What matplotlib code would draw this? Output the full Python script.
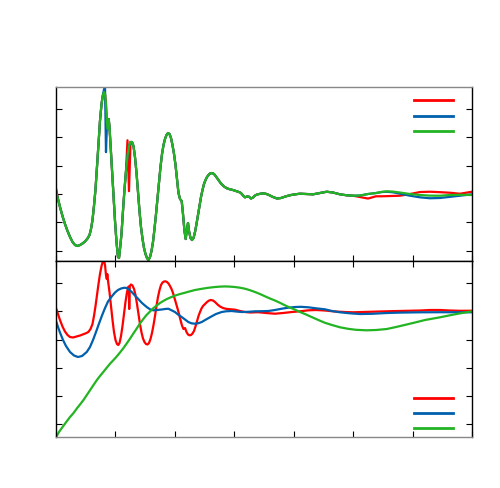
import matplotlib
matplotlib.use("Agg")
import matplotlib.pyplot as plt
from matplotlib.lines import Line2D

# ---------------- data: upper panel (shared x) ----------------
top_x = [0.000, 0.034, 0.067, 0.109, 0.151, 0.194, 0.236, 0.278, 0.320, 0.362,
         0.404, 0.446, 0.488, 0.530, 0.564, 0.589, 0.614, 0.639, 0.665, 0.690,
         0.715, 0.740, 0.766, 0.786, 0.808, 0.825, 0.841, 0.858, 0.872, 0.887,
         0.900, 0.917, 0.942, 0.968, 0.993, 1.018, 1.043, 1.060, 1.077, 1.102,
         1.127, 1.153, 1.178, 1.203, 1.228, 1.254, 1.279, 1.304, 1.329, 1.355,
         1.380, 1.405, 1.430, 1.456, 1.481, 1.506, 1.531, 1.556, 1.582, 1.607,
         1.632, 1.657, 1.683, 1.708, 1.733, 1.758, 1.784, 1.809, 1.834, 1.859,
         1.885, 1.910, 1.935, 1.960, 1.986, 2.011, 2.036, 2.061, 2.087, 2.115,
         2.137, 2.162, 2.182, 2.204, 2.221, 2.238, 2.263, 2.288, 2.314, 2.339,
         2.364, 2.389, 2.415, 2.440, 2.465, 2.490, 2.516, 2.541, 2.566, 2.591,
         2.625, 2.659, 2.692, 2.734, 2.776, 2.827, 2.877, 2.928, 2.978, 3.029,
         3.079, 3.113, 3.147, 3.180, 3.214, 3.248, 3.281, 3.315, 3.349, 3.382,
         3.433, 3.483, 3.534, 3.584, 3.651, 3.719, 3.786, 3.870, 3.954, 4.038,
         4.106, 4.207, 4.325, 4.442, 4.555, 4.661, 4.779, 4.897, 4.998, 5.115,
         5.250, 5.385, 5.486, 5.570, 5.671, 5.788, 5.957, 6.125, 6.293, 6.462,
         6.630, 6.798, 7.000]

top_green = [0.117, -0.177, -0.459, -0.777, -1.060, -1.307, -1.519, -1.696, -1.802, -1.837,
             -1.802, -1.749, -1.678, -1.572, -1.449, -1.237, -0.919, -0.424, 0.177, 0.954,
             1.767, 2.580, 3.180, 3.463, 3.604, 3.534, 3.180, 2.474, 2.297, 2.650,
             2.368, 1.767, 0.883, -0.071, -0.954, -1.696, -2.226, -2.262, -1.943, -1.413,
             -0.601, 0.177, 0.813, 1.343, 1.696, 1.837, 1.837, 1.696, 1.307, 0.742,
             0.071, -0.601, -1.166, -1.590, -1.908, -2.120, -2.262, -2.332, -2.226, -2.014,
             -1.696, -1.237, -0.707, -0.141, 0.424, 0.954, 1.413, 1.731, 1.944, 2.085,
             2.156, 2.120, 1.979, 1.731, 1.413, 1.025, 0.530, 0.035, -0.177, -0.247,
             -0.707, -1.307, -1.590, -1.237, -1.025, -1.307, -1.555, -1.625, -1.555, -1.343,
             -1.060, -0.742, -0.424, -0.106, 0.141, 0.353, 0.495, 0.601, 0.671, 0.724,
             0.742, 0.707, 0.618, 0.495, 0.371, 0.265, 0.201, 0.166, 0.141, 0.106,
             0.071, 0.035, -0.053, -0.117, -0.088, -0.095, -0.159, -0.124, -0.053, -0.018,
             0.007, 0.025, 0.007, -0.035, -0.106, -0.159, -0.141, -0.081, -0.035, -0.007,
             0.011, 0.000, -0.011, 0.035, 0.081, 0.053, -0.011, -0.046, -0.060, -0.053,
             0.000, 0.035, 0.078, 0.095, 0.085, 0.053, 0.000, -0.035, -0.057, -0.060,
             -0.035, -0.028, -0.035]

top_red = [0.200, -0.177, -0.459, -0.777, -1.060, -1.307, -1.519, -1.696, -1.802, -1.837,
           -1.802, -1.749, -1.678, -1.572, -1.449, -1.237, -0.919, -0.424, 0.177, 0.954,
           1.767, 2.580, 3.180, 3.463, 3.604, 3.534, 3.180, 2.474, 2.297, 2.650,
           2.368, 1.767, 0.883, -0.071, -0.954, -1.696, -2.226, -2.262, -1.943, -1.413,
           -0.601, 0.177, 0.813, 1.900, 0.100, 1.837, 1.837, 1.696, 1.307, 0.742,
           0.071, -0.601, -1.166, -1.590, -1.908, -2.120, -2.262, -2.332, -2.226, -2.014,
           -1.696, -1.237, -0.707, -0.141, 0.424, 0.954, 1.413, 1.731, 1.944, 2.085,
           2.156, 2.120, 1.979, 1.731, 1.413, 1.025, 0.530, 0.035, -0.177, -0.247,
           -0.707, -1.307, -1.590, -1.237, -1.025, -1.307, -1.555, -1.625, -1.555, -1.343,
           -1.060, -0.742, -0.424, -0.106, 0.141, 0.353, 0.495, 0.601, 0.671, 0.724,
           0.742, 0.707, 0.618, 0.495, 0.371, 0.265, 0.201, 0.166, 0.141, 0.106,
           0.071, 0.035, -0.053, -0.117, -0.088, -0.095, -0.159, -0.124, -0.053, -0.018,
           0.007, 0.025, 0.007, -0.035, -0.106, -0.159, -0.141, -0.081, -0.035, -0.007,
           0.011, 0.000, -0.011, 0.035, 0.081, 0.053, -0.011, -0.046, -0.060, -0.106,
           -0.160, -0.080, -0.080, -0.075, -0.070, -0.060, 0.000, 0.070, 0.081, 0.065,
           0.045, 0.010, 0.081]

top_blue = [0.117, -0.177, -0.459, -0.777, -1.060, -1.307, -1.519, -1.696, -1.802, -1.837,
            -1.802, -1.749, -1.678, -1.572, -1.449, -1.237, -0.919, -0.424, 0.177, 0.954,
            1.767, 2.580, 3.180, 3.463, 3.700, 3.780, 1.480, 2.474, 2.297, 2.650,
            2.368, 1.767, 0.883, -0.071, -0.954, -1.696, -2.226, -2.262, -1.943, -1.413,
            -0.601, 0.177, 0.813, 1.343, 1.696, 1.837, 1.837, 1.696, 1.307, 0.742,
            0.071, -0.601, -1.166, -1.590, -1.908, -2.120, -2.262, -2.332, -2.226, -2.014,
            -1.696, -1.237, -0.707, -0.141, 0.424, 0.954, 1.413, 1.731, 1.944, 2.085,
            2.156, 2.120, 1.979, 1.731, 1.413, 1.025, 0.530, 0.035, -0.177, -0.247,
            -0.707, -1.307, -1.590, -1.237, -1.025, -1.307, -1.555, -1.625, -1.555, -1.343,
            -1.060, -0.742, -0.424, -0.106, 0.141, 0.353, 0.495, 0.601, 0.671, 0.724,
            0.742, 0.707, 0.618, 0.495, 0.371, 0.265, 0.201, 0.166, 0.141, 0.106,
            0.071, 0.035, -0.053, -0.117, -0.088, -0.095, -0.159, -0.124, -0.053, -0.018,
            0.007, 0.025, 0.007, -0.035, -0.106, -0.159, -0.141, -0.081, -0.035, -0.007,
            0.011, 0.000, -0.011, 0.035, 0.081, 0.053, -0.011, -0.046, -0.060, -0.053,
            0.000, 0.035, 0.070, 0.080, 0.060, 0.010, -0.060, -0.117, -0.150, -0.140,
            -0.100, -0.060, -0.011]

# ---------------- data: lower panel ----------------
bot_red_x = [0.000, 0.034, 0.067, 0.109, 0.151, 0.194, 0.236, 0.286, 0.348, 0.404,
             0.459, 0.505, 0.544, 0.581, 0.614, 0.639, 0.665, 0.690, 0.715, 0.740,
             0.766, 0.786, 0.808, 0.825, 0.841, 0.855, 0.863, 0.880, 0.900, 0.925,
             0.951, 0.976, 1.001, 1.026, 1.048, 1.069, 1.094, 1.119, 1.144, 1.169,
             1.195, 1.217, 1.225, 1.232, 1.242, 1.262, 1.287, 1.313, 1.338, 1.363,
             1.388, 1.413, 1.439, 1.464, 1.489, 1.514, 1.540, 1.565, 1.590, 1.615,
             1.641, 1.666, 1.691, 1.716, 1.742, 1.767, 1.792, 1.817, 1.843, 1.868,
             1.893, 1.918, 1.944, 1.969, 1.994, 2.019, 2.045, 2.070, 2.095, 2.120,
             2.145, 2.171, 2.196, 2.221, 2.246, 2.272, 2.297, 2.322, 2.347, 2.373,
             2.398, 2.423, 2.448, 2.474, 2.507, 2.541, 2.575, 2.608, 2.642, 2.676,
             2.718, 2.760, 2.810, 2.861, 2.928, 3.012, 3.096, 3.180, 3.264, 3.399,
             3.534, 3.685, 3.820, 3.966, 4.106, 4.245, 4.375, 4.526, 4.695, 4.863,
             4.998, 5.149, 5.317, 5.452, 5.620, 5.788, 5.957, 6.125, 6.293, 6.462,
             6.630, 6.798, 7.000]
bot_red_y = [0.117, -0.096, -0.308, -0.538, -0.715, -0.839, -0.910, -0.927, -0.892, -0.857,
             -0.814, -0.775, -0.733, -0.627, -0.450, -0.166, 0.188, 0.577, 0.966, 1.320,
             1.604, 1.745, 1.798, 1.639, 1.285, 1.143, 1.320, 1.002, 0.683, 0.188,
             -0.308, -0.733, -1.016, -1.158, -1.193, -1.122, -0.874, -0.520, -0.096, 0.329,
             0.683, 0.860, 0.878, 0.081, 0.896, 0.949, 0.913, 0.789, 0.577, 0.258,
             -0.096, -0.450, -0.750, -0.963, -1.087, -1.158, -1.175, -1.122, -0.981, -0.768,
             -0.485, -0.166, 0.188, 0.506, 0.754, 0.931, 1.019, 1.055, 1.062, 1.037,
             0.984, 0.896, 0.789, 0.648, 0.471, 0.294, 0.099, -0.096, -0.308, -0.503,
             -0.627, -0.591, -0.733, -0.821, -0.850, -0.839, -0.786, -0.697, -0.538, -0.343,
             -0.166, -0.025, 0.099, 0.188, 0.258, 0.329, 0.382, 0.400, 0.382, 0.329,
             0.241, 0.170, 0.117, 0.088, 0.074, 0.057, 0.011, -0.025, -0.042, -0.032,
             -0.060, -0.085, -0.060, -0.025, 0.000, 0.035, 0.046, 0.028, -0.007, -0.025,
             -0.035, -0.025, -0.014, -0.007, 0.004, 0.011, 0.018, 0.028, 0.046, 0.046,
             0.028, 0.018, 0.021]

bot_blue_x = [0.000, 0.034, 0.067, 0.118, 0.168, 0.236, 0.303, 0.370, 0.438, 0.517,
              0.572, 0.623, 0.673, 0.724, 0.774, 0.825, 0.875, 0.937, 0.993, 1.043,
              1.094, 1.144, 1.178, 1.220, 1.274, 1.329, 1.385, 1.447, 1.526, 1.582,
              1.637, 1.700, 1.779, 1.834, 1.890, 1.935, 2.002, 2.053, 2.115, 2.171,
              2.226, 2.280, 2.339, 2.398, 2.452, 2.524, 2.620, 2.692, 2.788, 2.861,
              2.956, 3.029, 3.125, 3.231, 3.349, 3.466, 3.572, 3.685, 3.798, 3.904,
              4.022, 4.123, 4.245, 4.375, 4.526, 4.644, 4.779, 4.947, 5.115, 5.317,
              5.565, 5.788, 6.125, 6.462, 6.966, 7.000]
bot_blue_y = [-0.343, -0.556, -0.750, -1.016, -1.228, -1.441, -1.565, -1.618, -1.582, -1.441,
              -1.264, -1.016, -0.733, -0.432, -0.149, 0.117, 0.347, 0.524, 0.665, 0.754,
              0.807, 0.832, 0.832, 0.789, 0.683, 0.559, 0.435, 0.294, 0.152, 0.071,
              0.035, 0.046, 0.064, 0.081, 0.092, 0.046, -0.025, -0.113, -0.202, -0.290,
              -0.379, -0.425, -0.439, -0.421, -0.379, -0.290, -0.177, -0.096, -0.025, 0.000,
              0.011, -0.007, -0.025, -0.018, 0.000, 0.004, 0.011, 0.046, 0.092, 0.127,
              0.152, 0.159, 0.142, 0.106, 0.071, 0.011, -0.035, -0.071, -0.096, -0.088,
              -0.060, -0.046, -0.035, -0.032, -0.035, -0.035]

bot_green_x = [0.000, 0.050, 0.123, 0.185, 0.236, 0.295, 0.348, 0.404, 0.459, 0.513,
               0.572, 0.631, 0.685, 0.740, 0.796, 0.850, 0.909, 0.968, 1.021, 1.077,
               1.132, 1.186, 1.245, 1.304, 1.358, 1.413, 1.469, 1.523, 1.582, 1.637,
               1.694, 1.750, 1.805, 1.859, 1.918, 2.002, 2.087, 2.171, 2.255, 2.339,
               2.452, 2.558, 2.675, 2.760, 2.844, 2.928, 3.012, 3.096, 3.180, 3.264,
               3.349, 3.433, 3.517, 3.601, 3.685, 3.769, 3.853, 3.938, 4.022, 4.106,
               4.190, 4.274, 4.358, 4.442, 4.526, 4.644, 4.779, 4.913, 5.048, 5.228,
               5.385, 5.565, 5.721, 5.901, 6.041, 6.209, 6.462, 6.685, 6.832, 7.000]
bot_green_y = [-4.460, -4.273, -4.060, -3.883, -3.742, -3.600, -3.448, -3.299, -3.150, -2.981,
               -2.796, -2.609, -2.442, -2.290, -2.149, -2.007, -1.855, -1.724, -1.600, -1.458,
               -1.310, -1.150, -0.970, -0.779, -0.609, -0.432, -0.273, -0.131, -0.007, 0.110,
               0.205, 0.294, 0.365, 0.428, 0.485, 0.556, 0.612, 0.658, 0.708, 0.754,
               0.796, 0.832, 0.860, 0.874, 0.881, 0.874, 0.860, 0.835, 0.800, 0.747,
               0.683, 0.612, 0.531, 0.453, 0.382, 0.301, 0.212, 0.131, 0.057, -0.025,
               -0.096, -0.177, -0.255, -0.333, -0.407, -0.485, -0.566, -0.619, -0.655, -0.673,
               -0.662, -0.627, -0.556, -0.467, -0.396, -0.308, -0.212, -0.117, -0.060, 0.000]

assert len(top_x) == len(top_green) == len(top_red) == len(top_blue)
assert len(bot_red_x) == len(bot_red_y)
assert len(bot_blue_x) == len(bot_blue_y)
assert len(bot_green_x) == len(bot_green_y)

x_ticks = [0, 1, 2, 3, 4, 5, 6, 7]
top_yticks = [-2, -1, 0, 1, 2, 3]
bot_yticks = [-4, -3, -2, -1, 0, 1]

RED = "#ff0000"
BLUE = "#0060ad"
GREEN = "#22b422"
LW = 1.6

fig = plt.figure(figsize=(5.0, 4.89), dpi=100)
ax1 = fig.add_axes([0.112, 0.4642, 0.832, 0.3558])
ax2 = fig.add_axes([0.112, 0.1043, 0.832, 0.3599])

ax1.plot(top_x, top_red, color=RED, lw=LW)
ax1.plot(top_x, top_blue, color=BLUE, lw=LW)
ax1.plot(top_x, top_green, color=GREEN, lw=LW)

ax2.plot(bot_red_x, bot_red_y, color=RED, lw=LW)
ax2.plot(bot_blue_x, bot_blue_y, color=BLUE, lw=LW)
ax2.plot(bot_green_x, bot_green_y, color=GREEN, lw=LW)

ax1.set_xlim(0, 7)
ax1.set_ylim(-2.367, 3.781)
ax2.set_xlim(0, 7)
ax2.set_ylim(-4.45, 1.781)

for ax in (ax1, ax2):
    ax.set_xticks(x_ticks)
    ax.tick_params(axis="both", direction="in", length=4, width=0.8,
                   labelbottom=False, labelleft=False, labeltop=False, labelright=False,
                   color="black")
    ax.tick_params(axis="y", left=True, right=True)
    for s in ax.spines.values():
        s.set_linewidth(1.0)
        s.set_color("black")

ax1.set_yticks(top_yticks)
ax2.set_yticks(bot_yticks)
ax1.tick_params(axis="x", top=False, bottom=True)
ax2.tick_params(axis="x", top=True, bottom=True)
ax1.spines["top"].set_color("#888888")
ax2.spines["bottom"].set_color("#888888")

handles = [Line2D([], [], color=c, lw=2.0) for c in (RED, BLUE, GREEN)]
for ax, anchor in ((ax1, (0.955, 0.958)), (ax2, (0.955, 0.259))):
    ax.legend(handles, ["", "", ""], loc="upper right", bbox_to_anchor=anchor,
              frameon=False, fontsize=10, handlelength=2.8, handletextpad=0.0,
              borderpad=0.0, borderaxespad=0.0, labelspacing=0.08)

fig.savefig("out.png", dpi=100)
